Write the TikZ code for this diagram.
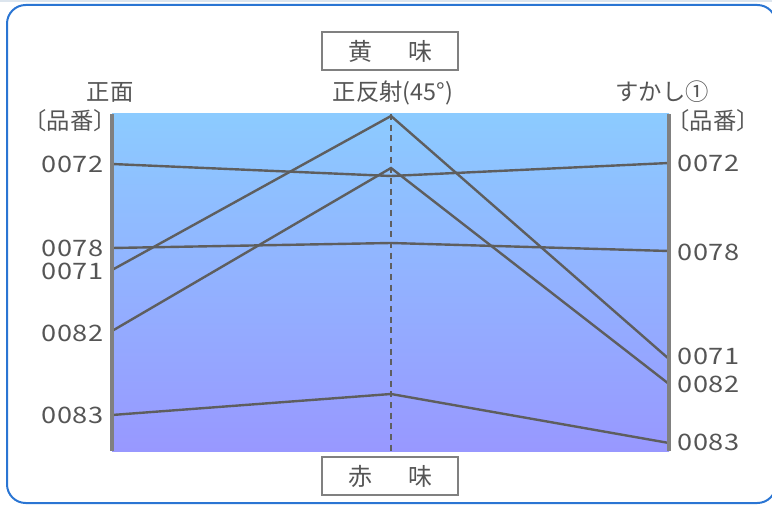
\documentclass[tikz,border=0pt]{standalone}
\usepackage{fontspec}
\setmainfont{Noto Sans CJK JP}
\newfontfamily\numfont[FakeStretch=1.2,LetterSpace=3]{Noto Sans CJK JP}
\definecolor{frameblue}{HTML}{2A75D3}
\definecolor{txtgrey}{HTML}{555555}
\definecolor{linegrey}{HTML}{5E5E5E}
\definecolor{axisgrey}{HTML}{808080}
\definecolor{skytop}{HTML}{8CCBFF}
\definecolor{skybot}{HTML}{9898FF}
\definecolor{stripgrey}{HTML}{DCE5EE}

\tikzset{
  series/.style={draw=linegrey, line width=1.8pt},
  axisline/.style={draw=axisgrey, line width=2.6pt},
  midline/.style={draw=linegrey, line width=1.2pt, dash pattern=on 4.5pt off 3.5pt},
  lnum/.style={font=\numfont\fontsize{17pt}{18pt}\selectfont, text=txtgrey, inner sep=0pt},
  head/.style={font=\fontsize{17.5pt}{19pt}\selectfont, text=txtgrey, inner sep=0pt},
  tastebox/.style={draw=axisgrey, line width=1.3pt, minimum width=102pt, minimum height=29pt,
    inner sep=0pt, font=\fontsize{18pt}{19pt}\selectfont, text=txtgrey}
}

\begin{document}
\begin{tikzpicture}[x=0.75pt,y=-0.75pt]
    \useasboundingbox (0,0) rectangle (772,506);
    \fill[stripgrey] (0,0) rectangle (772,2);
    \draw[frameblue, line width=1.5pt, rounded corners=14pt] (7,5) rectangle (776,503);

    \shade[top color=skytop, bottom color=skybot] (112,114) rectangle (669,451);

    % headings
    \node[tastebox] (yellow) at (390,51) {黄\hspace{1.5em}味};
    \node[tastebox] (red) at (390,476) {赤\hspace{1.5em}味};
    \node[head] (front) at (110,92) {正面};
    \node[head] (spec) at (393,93) {正反射(45°)};
    \node[head] (trans) at (662,92) {すかし①};
    \node[head] (lno) at (70,121) {〔品番〕};
    \node[head] (rno) at (713,121) {〔品番〕};

    % axis points
    \coordinate (Ltop) at (112,114);  \coordinate (Lbot) at (112,451);
    \coordinate (Mtop) at (391,114);  \coordinate (Mbot) at (391,451);
    \coordinate (Rtop) at (669,114);  \coordinate (Rbot) at (669,451);

    \coordinate (L72) at (112,164); \coordinate (M72) at (391,176); \coordinate (R72) at (669,163);
    \coordinate (L78) at (112,248); \coordinate (M78) at (391,243); \coordinate (R78) at (669,251);
    \coordinate (L71) at (112,270); \coordinate (M71) at (391,116); \coordinate (R71) at (669,359);
    \coordinate (L82) at (112,331); \coordinate (M82) at (391,168); \coordinate (R82) at (669,384);
    \coordinate (L83) at (112,415); \coordinate (M83) at (391,394); \coordinate (R83) at (669,443);

    % item numbers
    \node[lnum, anchor=east] (l72) at (104,164) {0072};
    \node[lnum, anchor=east] (l78) at (104,248) {0078};
    \node[lnum, anchor=east] (l71) at (104,271) {0071};
    \node[lnum, anchor=east] (l82) at (104,333) {0082};
    \node[lnum, anchor=east] (l83) at (104,415) {0083};
    \node[lnum, anchor=west] (r72) at (677,163) {0072};
    \node[lnum, anchor=west] (r78) at (677,252) {0078};
    \node[lnum, anchor=west] (r71) at (677,356) {0071};
    \node[lnum, anchor=west] (r82) at (677,384) {0082};
    \node[lnum, anchor=west] (r83) at (677,442) {0083};

    \draw[midline] (Mtop) -- (Mbot);
    \draw[series] (L72) -- (M72) -- (R72);
    \draw[series] (L78) -- (M78) -- (R78);
    \draw[series] (L71) -- (M71) -- (R71);
    \draw[series] (L82) -- (M82) -- (R82);
    \draw[series] (L83) -- (M83) -- (R83);
    \draw[axisline] (Ltop) -- (Lbot);
    \draw[axisline] (Rtop) -- (Rbot);
\end{tikzpicture}
\end{document}
